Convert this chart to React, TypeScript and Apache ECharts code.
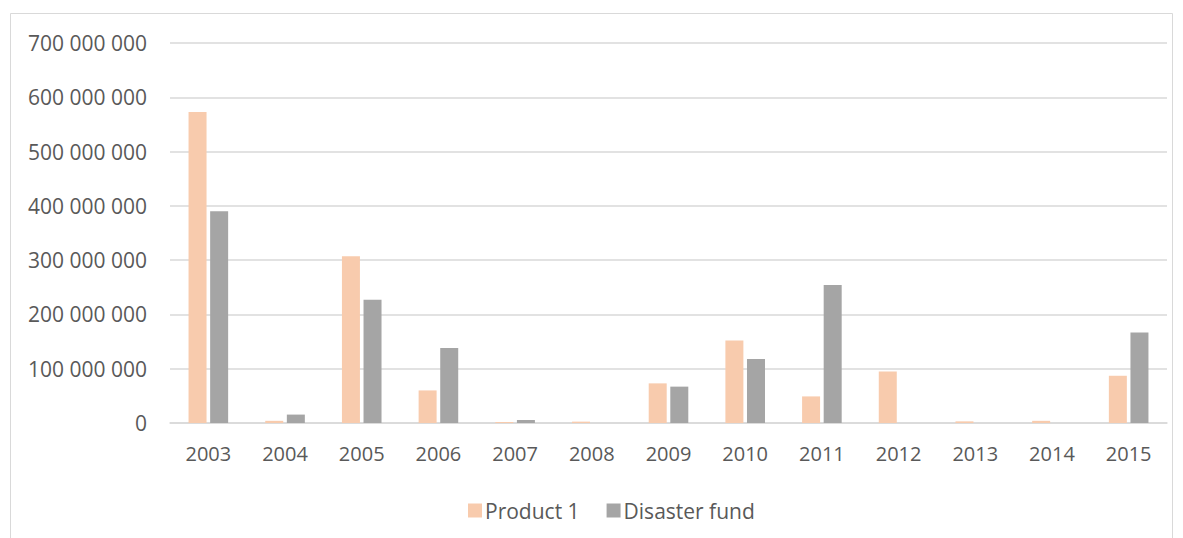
import React, { useEffect, useRef } from "react";
import * as echarts from "echarts";

const years = ["2003", "2004", "2005", "2006", "2007", "2008", "2009", "2010", "2011", "2012", "2013", "2014", "2015"];
const product1 = [573000000, 4000000, 307000000, 60000000, 2000000, 2500000, 73000000, 152000000, 49000000, 95000000, 3000000, 4000000, 87000000];
const disasterFund = [390000000, 15500000, 227000000, 138000000, 5500000, 0, 67000000, 118000000, 254000000, 0, 0, 0, 166500000];

const FONT = "'Open Sans', 'Noto Sans', sans-serif";
const TXT = "#595959";

function fmt(v: number): string {
  const s = String(Math.round(v));
  return s.replace(/\B(?=(\d{3})+(?!\d))/g, " ");
}

export default function App() {
  const ref = useRef<HTMLDivElement>(null);
  useEffect(() => {
    if (!ref.current) return;
    const chart = echarts.init(ref.current, undefined, { renderer: "svg" });
    chart.setOption({
      animation: false,
      backgroundColor: "#ffffff",
      textStyle: { fontFamily: FONT },
      graphic: [
        {
          type: "rect",
          shape: { x: 10.5, y: 13.5, width: 1162, height: 540 },
          style: { fill: "none", stroke: "#d9d9d9", lineWidth: 1 },
          silent: true,
        },
      ],
      grid: { left: 170, right: 16, top: 43, bottom: 115, containLabel: false },
      legend: {
        data: ["Product 1", "Disaster fund"],
        left: 463,
        top: 495,
        icon: "rect",
        itemWidth: 14,
        itemHeight: 14,
        itemGap: 27,
        textStyle: { fontFamily: FONT, fontSize: 21, color: TXT, padding: [0, 0, 0, -2] },
      },
      xAxis: {
        type: "category",
        data: years,
        axisLine: { show: true, lineStyle: { color: "#d9d9d9", width: 1.5 } },
        axisTick: { show: false },
        axisLabel: { fontFamily: FONT, fontSize: 20, color: TXT, margin: 20 },
      },
      yAxis: {
        type: "value",
        min: 0,
        max: 700000000,
        interval: 100000000,
        axisLine: { show: false },
        axisTick: { show: false },
        splitLine: { lineStyle: { color: "#d9d9d9", width: 1.5 } },
        axisLabel: { fontFamily: FONT, fontSize: 21, color: TXT, margin: 23, formatter: (v: number) => fmt(v) },
      },
      series: [
        {
          name: "Product 1",
          type: "bar",
          data: product1,
          barWidth: 18,
          barGap: "20%",
          itemStyle: { color: "#F8CBAD" },
        },
        {
          name: "Disaster fund",
          type: "bar",
          data: disasterFund,
          barWidth: 18,
          itemStyle: { color: "#A5A5A5" },
        },
      ],
    });
    return () => chart.dispose();
  }, []);
  return (
    <div
      ref={ref}
      style={{ position: "absolute", left: 0, top: 0, width: 1183, height: 538, background: "#fff" }}
    />
  );
}
